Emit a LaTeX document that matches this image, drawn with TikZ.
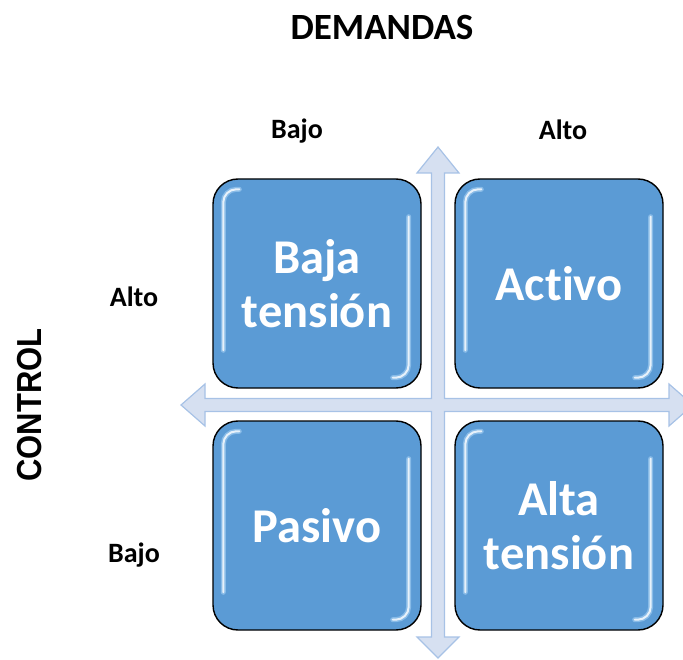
\documentclass[tikz,border=0pt]{standalone}
\usepackage{fontspec}
\setmainfont{Carlito}[Ligatures={TeX,NoCommon,NoContextual}]
\newfontfamily\arialfont{Liberation Sans}
\usetikzlibrary{calc}
\definecolor{boxblue}{HTML}{5B9BD5}
\definecolor{glowblue}{HTML}{BFE2FF}
\definecolor{arrowfill}{HTML}{D6E0F1}
\definecolor{arrowline}{HTML}{A7C2E6}
\begin{document}
\begin{tikzpicture}[x=1pt,y=-1pt,
  quad/.style={draw=black, line width=1.4pt, fill=boxblue, rounded corners=25pt,
    minimum width=208pt, minimum height=209pt, text=white,
    font=\bfseries\fontsize{48.5}{54}\selectfont, align=center, inner sep=0pt},
  lbl/.style={font=\bfseries\fontsize{28}{32}\selectfont, text=black},
  glow/.style={draw=glowblue, opacity=0.45, line width=5pt, line cap=round, rounded corners=13pt},
  gloss/.style={draw=white, opacity=0.8, line width=2pt, line cap=round, rounded corners=13pt},
  crossarrow/.style={fill=arrowfill, draw=arrowline, line width=1.2pt, line join=miter}]
\useasboundingbox (0,0) rectangle (683,660);
\clip (0,0) rectangle (683,660);
\coordinate (c) at (438,405);
% cross arrows
\draw[crossarrow]
  ($(c)+(0,-258)$) -- ($(c)+(21,-232)$) -- ($(c)+(6.5,-232)$) -- ($(c)+(6.5,-6.5)$)
  -- ($(c)+(231,-6.5)$) -- ($(c)+(231,-21)$) -- ($(c)+(255,0)$) -- ($(c)+(231,21)$)
  -- ($(c)+(231,6.5)$) -- ($(c)+(6.5,6.5)$) -- ($(c)+(6.5,232)$) -- ($(c)+(21,232)$)
  -- ($(c)+(0,253)$) -- ($(c)+(-21,232)$) -- ($(c)+(-6.5,232)$) -- ($(c)+(-6.5,6.5)$)
  -- ($(c)+(-233,6.5)$) -- ($(c)+(-233,21)$) -- ($(c)+(-257,0)$) -- ($(c)+(-233,-21)$)
  -- ($(c)+(-233,-6.5)$) -- ($(c)+(-6.5,-6.5)$) -- ($(c)+(-6.5,-232)$) -- ($(c)+(-21,-232)$)
  -- cycle;
% boxes
\node[quad] (tl) at (317,283.5) {Baja\\tensión};
\node[quad] (tr) at (559,283.5) {Act\kern0pt ivo};
\node[quad] (bl) at (317,525.5) {Pasivo};
\node[quad] (br) at (559,525.5) {Alta\\tensión};
% gloss highlights
\foreach \n in {tl,tr,bl,br}{
  \foreach \s in {glow,gloss}{
    \draw[\s] ([shift={(11,172)}]\n.north west) -- ([shift={(11,11)}]\n.north west) -- ([shift={(27,11)}]\n.north west);
    \draw[\s] ([shift={(-13,-172)}]\n.south east) -- ([shift={(-13,-11)}]\n.south east) -- ([shift={(-29,-11)}]\n.south east);
  }
}
% labels
\node[font=\bfseries\fontsize{37}{40}\selectfont] (dem) at (382,27) {DEMANDAS};
\node[lbl] (dlow) at (297,131) {Bajo};
\node[lbl] (dhigh) at (563,130) {Alto};
\node[lbl] (chigh) at (134,297) {Alto};
\node[lbl] (clow) at (134,555) {Bajo};
\node[font=\arialfont\bfseries\fontsize{31}{34}\selectfont, rotate=90] (ctl) at (30,405) {\scalebox{1}[1.12]{CONTROL}};
\end{tikzpicture}
\end{document}
